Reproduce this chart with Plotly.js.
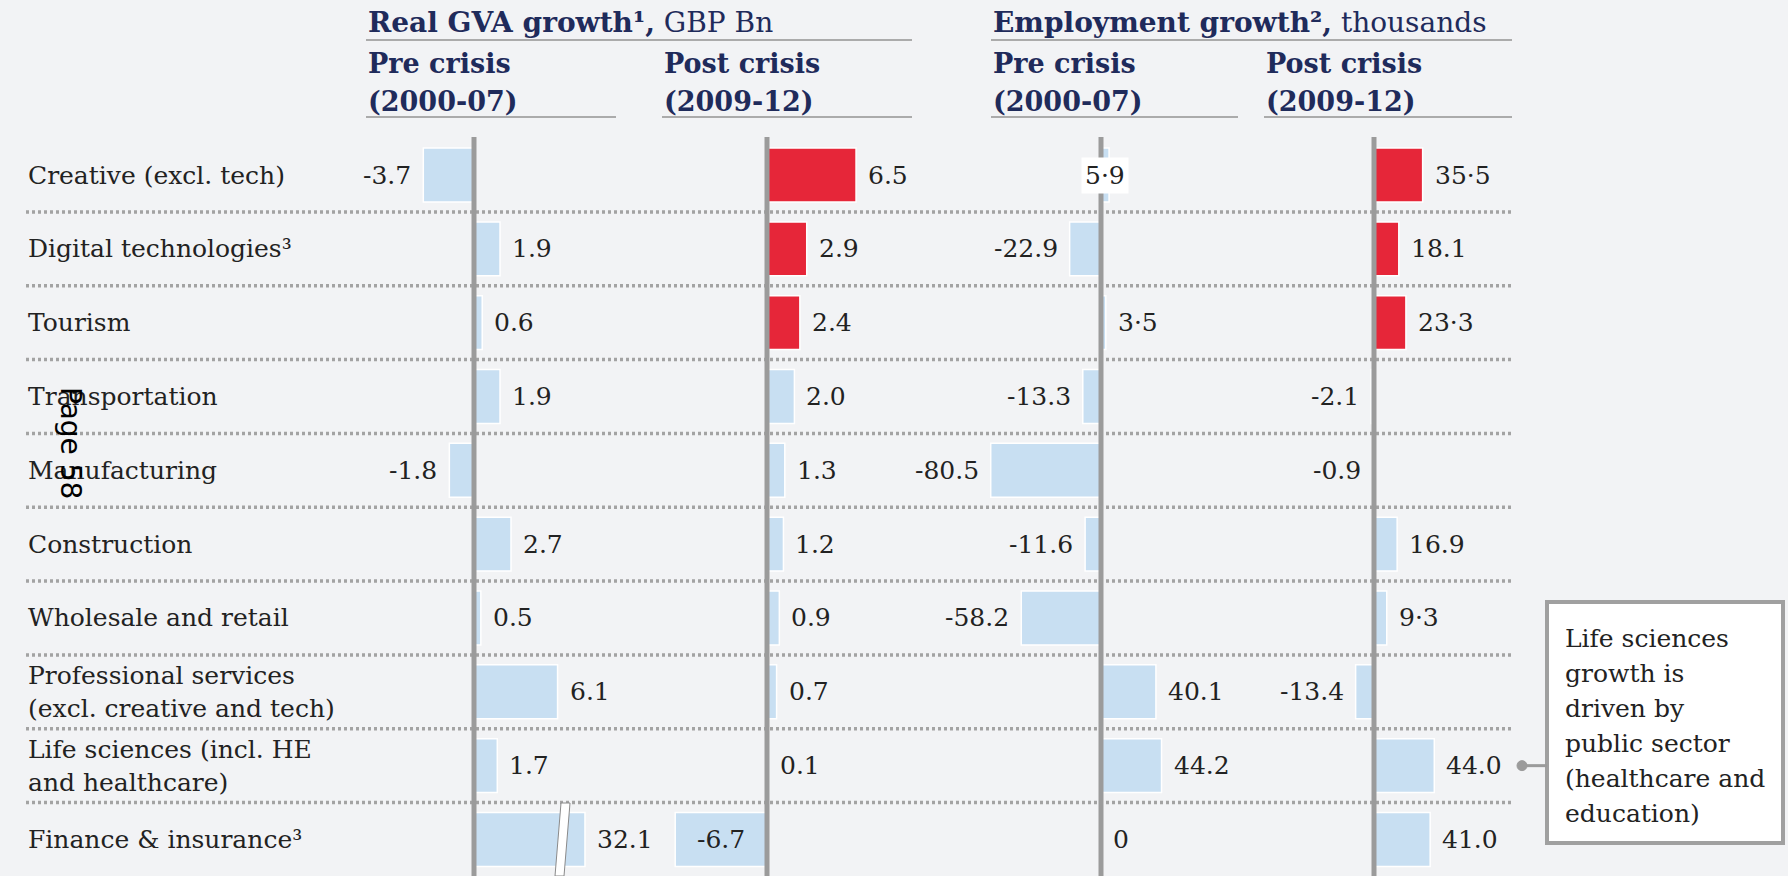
<!DOCTYPE html>
<html>
<head>
<meta charset="utf-8">
<script src="https://cdn.plot.ly/plotly-3.0.1.min.js"></script>
<style>
  html, body { margin: 0; padding: 0; background: #f2f3f5; }
  #chart { width: 1788px; height: 876px; }
</style>
</head>
<body>
<div id="chart"></div>
<script>
// sectors, top to bottom
var sectors = [
  'Creative (excl. tech)',
  'Digital technologies³',
  'Tourism',
  'Transportation',
  'Manufacturing',
  'Construction',
  'Wholesale and retail',
  'Professional services<br>(excl. creative and tech)',
  'Life sciences (incl. HE<br>and healthcare)',
  'Finance & insurance³'
];

// real GVA growth, GBP Bn
var gvaPre  = [-3.7, 1.9, 0.6, 1.9, -1.8, 2.7, 0.5, 6.1, 1.7, 32.1];
var gvaPost = [6.5, 2.9, 2.4, 2.0, 1.3, 1.2, 0.9, 0.7, 0.1, -6.7];
// employment growth, thousands
var empPre  = [5.9, -22.9, 3.5, -13.3, -80.5, -11.6, -58.2, 40.1, 44.2, 0];
var empPost = [35.5, 18.1, 23.3, -2.1, -0.9, 16.9, 9.3, -13.4, 44.0, 41.0];

// value labels as printed
var gvaPreText  = ['-3.7', '1.9', '0.6', '1.9', '-1.8', '2.7', '0.5', '6.1', '1.7', '32.1'];
var gvaPostText = ['6.5', '2.9', '2.4', '2.0', '1.3', '1.2', '0.9', '0.7', '0.1', '-6.7'];
var empPreText  = ['5·9', '-22.9', '3·5', '-13.3', '-80.5', '-11.6', '-58.2', '40.1', '44.2', '0'];
var empPostText = ['35·5', '18.1', '23·3', '-2.1', '-0.9', '16.9', '9·3', '-13.4', '44.0', '41.0'];

var redRows = [0, 1, 2];

var groupTitles = ['<b>Real GVA growth¹,</b> GBP Bn', '<b>Employment growth²,</b> thousands'];
var periodTitles = ['<b>Pre crisis</b>', '<b>Post crisis</b>'];
var periodYears = ['<b>(2000-07)</b>', '<b>(2009-12)</b>'];

var calloutLines = ['Life sciences', 'growth is', 'driven by', 'public sector', '(healthcare and', 'education)'];

// ---- layout helpers (pixels) ----
var W = 1788, H = 876;
function px(x) { return x / W; }
function py(y) { return 1 - y / H; }

var rowTop = 175, rowStep = 73.83;
var blue = '#c8dff2', red = '#e62639', grey = '#9b9b9b';
var serif = 'DejaVu Serif';
var navy = '#1f2b5b';

var panels = [
  {vals: gvaPre,  text: gvaPreText,  left: 366, head: 366, right: 616,  zero: 474,  scale: 13.7, red: false, cap: 8.1},
  {vals: gvaPost, text: gvaPostText, left: 662, head: 662, right: 912,  zero: 767,  scale: 13.7, red: true},
  {vals: empPre,  text: empPreText,  left: 986, head: 991, right: 1238, zero: 1101, scale: 1.37, red: false},
  {vals: empPost, text: empPostText, left: 1263, head: 1264, right: 1512, zero: 1374, scale: 1.37, red: true}
];
// labels that don't sit outside the bar end
var labelStyle = {'1-9': 'inside', '2-0': 'boxed'};

var rows = sectors.map(function(s, i) { return i; });
var data = [];
var annotations = [];
var shapes = [];
var layout = {
  width: W, height: H,
  margin: {l: 0, r: 0, t: 0, b: 0},
  paper_bgcolor: '#f2f3f5',
  plot_bgcolor: 'rgba(0,0,0,0)',
  showlegend: false,
  font: {family: serif, size: 25, color: '#222'},
  yaxis: {
    domain: [0, 1],
    range: [(H - rowTop) / rowStep, -rowTop / rowStep],
    visible: false, fixedrange: true
  }
};

// dotted separators between rows
for (var i = 0; i < sectors.length - 1; i++) {
  shapes.push({
    type: 'line', xref: 'paper', yref: 'y',
    x0: px(26), x1: px(1512), y0: i + 0.5, y1: i + 0.5,
    line: {color: '#a3a3a3', width: 3.5, dash: '3px,3px'}
  });
}

panels.forEach(function(p, k) {
  var xa = 'x' + (k ? k + 1 : '');
  var axName = 'xaxis' + (k ? k + 1 : '');
  layout[axName] = {
    domain: [px(p.left), px(p.right)],
    range: [-(p.zero - p.left) / p.scale, (p.right - p.zero) / p.scale],
    anchor: 'y', visible: false, fixedrange: true
  };
  var cap = p.cap || Infinity;
  var shown = p.vals.map(function(v) { return Math.min(v, cap); });
  var colors = p.vals.map(function(v, i) {
    return p.red && redRows.indexOf(i) >= 0 ? red : blue;
  });
  data.push({
    type: 'bar', orientation: 'h',
    x: shown, y: rows,
    xaxis: xa, yaxis: 'y',
    width: 0.73,
    marker: {color: colors, line: {color: '#ffffff', width: 1.5}},
    hoverinfo: 'none'
  });

  // zero line
  shapes.push({
    type: 'line', xref: xa, yref: 'paper',
    x0: 0, x1: 0, y0: 0, y1: py(137),
    line: {color: grey, width: 5}
  });

  // value labels
  p.vals.forEach(function(v, i) {
    var mode = labelStyle[k + '-' + i] || 'outside';
    var a = {
      xref: xa, yref: 'y', x: shown[i], y: i, yanchor: 'middle',
      text: p.text[i], showarrow: false,
      font: {family: serif, size: 25, color: '#222'}
    };
    if (mode === 'inside') {
      a.x = shown[i] / 2; a.xanchor = 'center';
    } else if (mode === 'boxed') {
      a.x = 0; a.xanchor = 'center'; a.xshift = 4;
      a.bgcolor = '#ffffff'; a.borderpad = 3;
    } else if (v < 0) {
      a.xanchor = 'right'; a.xshift = -10;
    } else {
      a.xanchor = 'left'; a.xshift = 10;
    }
    annotations.push(a);
  });

  // period headings
  var per = k % 2;
  annotations.push({
    xref: 'paper', yref: 'paper', x: px(p.head), y: py(81.5),
    xanchor: 'left', yanchor: 'bottom', showarrow: false,
    text: periodTitles[per], font: {family: serif, size: 27, color: navy}
  });
  annotations.push({
    xref: 'paper', yref: 'paper', x: px(p.head), y: py(118.5),
    xanchor: 'left', yanchor: 'bottom', showarrow: false,
    text: periodYears[per], font: {family: serif, size: 27, color: navy}
  });
  shapes.push({
    type: 'line', xref: 'paper', yref: 'paper',
    x0: px(p.head), x1: px(p.right), y0: py(117), y1: py(117),
    line: {color: '#ababab', width: 2}
  });
});

// group headings
[[366, 912], [991, 1512]].forEach(function(g, j) {
  annotations.push({
    xref: 'paper', yref: 'paper', x: px(g[0]), y: py(41),
    xanchor: 'left', yanchor: 'bottom', showarrow: false,
    text: groupTitles[j], font: {family: serif, size: 28, color: navy}
  });
  shapes.push({
    type: 'line', xref: 'paper', yref: 'paper',
    x0: px(g[0]), x1: px(g[1]), y0: py(40), y1: py(40),
    line: {color: '#ababab', width: 2}
  });
});

// row labels
sectors.forEach(function(s, i) {
  annotations.push({
    xref: 'paper', yref: 'y', x: px(26), y: i,
    xanchor: 'left', yanchor: 'middle', align: 'left', showarrow: false,
    text: s, font: {family: serif, size: 25, color: '#222'}
  });
});

// break mark on the truncated finance bar
shapes.push({
  type: 'path', xref: 'paper', yref: 'paper',
  path: 'M ' + px(561) + ' ' + py(803) + ' L ' + px(570) + ' ' + py(803) +
        ' L ' + px(564) + ' ' + py(876) + ' L ' + px(555) + ' ' + py(876) + ' Z',
  fillcolor: '#ffffff', line: {color: '#8a8a8a', width: 1}
});

// callout
shapes.push({
  type: 'rect', xref: 'paper', yref: 'paper',
  x0: px(1547), x1: px(1783), y0: py(602), y1: py(843),
  fillcolor: '#ffffff', line: {color: '#a0a0a0', width: 4}
});
shapes.push({
  type: 'line', xref: 'paper', yref: 'y',
  x0: px(1522), x1: px(1547), y0: 8, y1: 8,
  line: {color: grey, width: 3}
});
shapes.push({
  type: 'circle', xref: 'paper', yref: 'y', ysizemode: 'pixel', yanchor: 8,
  x0: px(1517), x1: px(1527), y0: -5, y1: 5,
  fillcolor: grey, line: {color: grey, width: 1}
});
calloutLines.forEach(function(t, j) {
  annotations.push({
    xref: 'paper', yref: 'paper', x: px(1563), y: py(647 + j * 35 - 8.7),
    xanchor: 'left', yanchor: 'middle', showarrow: false,
    text: t, font: {family: serif, size: 25, color: '#222'}
  });
});

// page number overlay
annotations.push({
  xref: 'paper', yref: 'paper', x: px(71), y: py(443),
  xanchor: 'center', yanchor: 'middle', showarrow: false, textangle: 90,
  text: 'Page 58', font: {family: 'DejaVu Sans', size: 28, color: '#000'}
});

layout.shapes = shapes;
layout.annotations = annotations;

Plotly.newPlot('chart', data, layout, {staticPlot: true, displayModeBar: false});
</script>
</body>
</html>
